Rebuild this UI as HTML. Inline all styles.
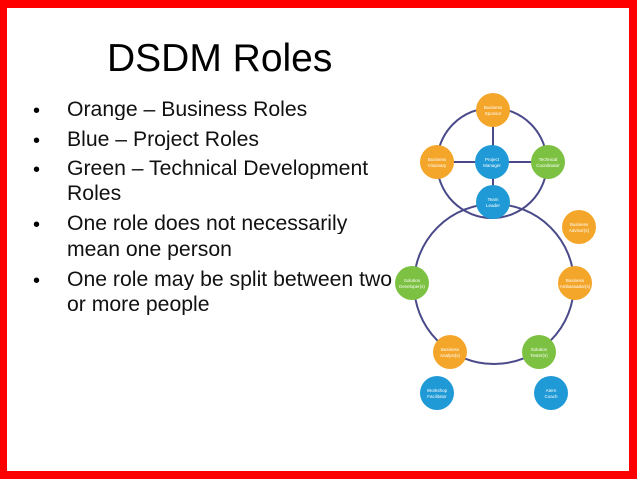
<!DOCTYPE html>
<html><head><style>
html,body{margin:0;padding:0}
body{width:638px;height:479px;position:relative;background:#fff;overflow:hidden;font-family:"Liberation Sans",sans-serif}
.frame{position:absolute;left:0;top:0;width:622px;height:463px;border:8px solid #f00;border-left-width:7px;}
.t{position:absolute;left:107px;top:37px;font-size:39px;color:#000;white-space:nowrap}
.b{position:absolute;left:33px;font-size:20px;color:#000}
.l{position:absolute;left:67px;width:326px;overflow:hidden;white-space:nowrap;font-size:21.2px;color:#111;line-height:20px}
</style></head><body>
<div class="frame"></div>
<div class="t">DSDM Roles</div>
<div class="b" style="top:100px">•</div><div class="l" style="top:100px">Orange – Business Roles</div>
<div class="b" style="top:130px">•</div><div class="l" style="top:130px">Blue – Project Roles</div>
<div class="b" style="top:159px">•</div><div class="l" style="top:159px">Green – Technical Development</div>
<div class="l" style="top:184px">Roles</div>
<div class="b" style="top:214px">•</div><div class="l" style="top:214px">One role does not necessarily</div>
<div class="l" style="top:240px">mean one person</div>
<div class="b" style="top:270px">•</div><div class="l" style="top:270px">One role may be split between two</div>
<div class="l" style="top:295px">or more people</div>
<svg width="638" height="479" style="position:absolute;left:0;top:0" font-family="Liberation Sans,sans-serif" font-size="4.5" fill="#fff" text-anchor="middle">
<g stroke="#4a4a8a" stroke-width="2" fill="none">
<circle cx="492" cy="163" r="55"/>
<circle cx="494" cy="284" r="80"/>
<line x1="493" y1="110" x2="493" y2="202"/>
<line x1="437" y1="162" x2="548" y2="162"/>
</g>
<g>
<circle cx="493" cy="110" r="17" fill="#f4a62a"/>
<circle cx="437" cy="162" r="17" fill="#f4a62a"/>
<circle cx="492" cy="162" r="17" fill="#1f9ad6"/>
<circle cx="548" cy="162" r="17" fill="#7dc142"/>
<circle cx="493" cy="202" r="17" fill="#1f9ad6"/>
<circle cx="579" cy="227" r="17" fill="#f4a62a"/>
<circle cx="575" cy="283" r="17" fill="#f4a62a"/>
<circle cx="412" cy="283" r="17" fill="#7dc142"/>
<circle cx="450" cy="352" r="17" fill="#f4a62a"/>
<circle cx="539" cy="352" r="17" fill="#7dc142"/>
<circle cx="437" cy="393" r="17" fill="#1f9ad6"/>
<circle cx="551" cy="393" r="17" fill="#1f9ad6"/>
</g>
<text x="493" y="109">Business</text><text x="493" y="115">Sponsor</text>
<text x="437" y="161">Business</text><text x="437" y="167">Visionary</text>
<text x="492" y="161">Project</text><text x="492" y="167">Manager</text>
<text x="548" y="161">Technical</text><text x="548" y="167">Coordinator</text>
<text x="493" y="201">Team</text><text x="493" y="207">Leader</text>
<text x="579" y="226">Business</text><text x="579" y="232">Advisor(s)</text>
<text x="575" y="282">Business</text><text x="575" y="288">Ambassador(s)</text>
<text x="412" y="282">Solution</text><text x="412" y="288">Developer(s)</text>
<text x="450" y="351">Business</text><text x="450" y="357">Analyst(s)</text>
<text x="539" y="351">Solution</text><text x="539" y="357">Tester(s)</text>
<text x="437" y="392">Workshop</text><text x="437" y="398">Facilitator</text>
<text x="551" y="392">Atern</text><text x="551" y="398">Coach</text>
</svg>
</body></html>
